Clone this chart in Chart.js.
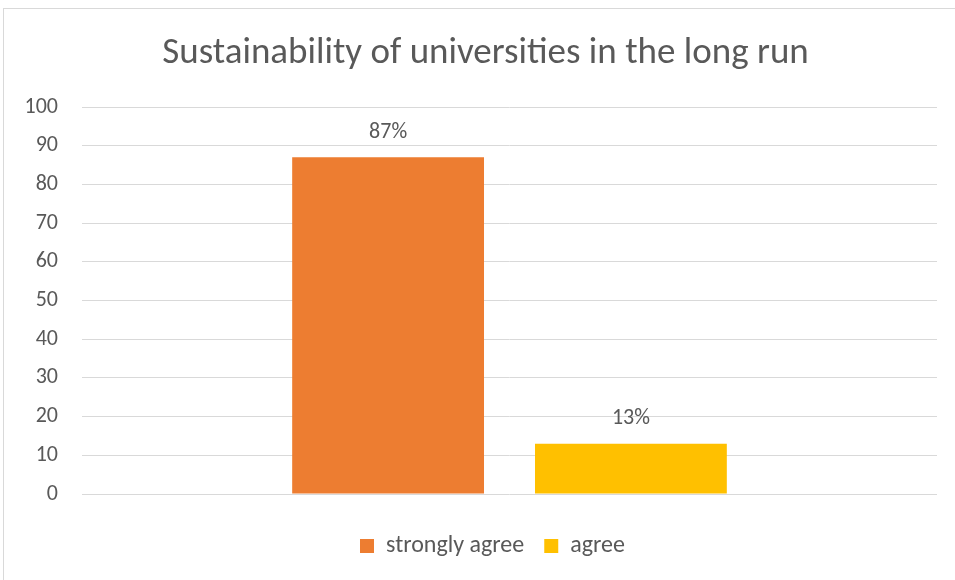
<!DOCTYPE html>
<html>
<head>
<meta charset="utf-8">
<script src="https://cdn.jsdelivr.net/npm/chart.js@4.4.0/dist/chart.umd.min.js"></script>
<style>
  html, body { margin: 0; padding: 0; background: #fff; }
  #wrap { width: 955px; height: 580px; position: relative; }
</style>
</head>
<body>
<div id="wrap"><canvas id="chart" width="955" height="580"></canvas></div>
<script>
// Survey answers
const categories = [''];
const seriesNames = ['strongly agree', 'agree'];
const strongAgreeValues = [87];
const agreeValues = [13];
const yTicks = [0, 10, 20, 30, 40, 50, 60, 70, 80, 90, 100];

const FONT = 'Carlito, Lato, "Open Sans", sans-serif';
const TEXT = '#595959';

// Frame around the whole chart
const framePlugin = {
  id: 'frame',
  beforeDraw(chart) {
    const c = chart.ctx;
    c.save();
    c.fillStyle = '#fff';
    c.fillRect(0, 0, chart.width, chart.height);
    c.strokeStyle = '#d9d9d9';
    c.lineWidth = 1;
    c.strokeRect(3.5, 8.5, chart.width, chart.height);
    c.restore();
  }
};

// Centre the title and legend over the framed area rather than the full canvas
const centerBlocks = {
  id: 'centerBlocks',
  afterLayout(chart) {
    if (chart.titleBlock) chart.titleBlock.left = 34;
    if (chart.legend) chart.legend.left = 48;
  }
};

// Value labels above each bar
const valueLabels = {
  id: 'valueLabels',
  afterDatasetsDraw(chart) {
    const c = chart.ctx;
    c.save();
    c.font = '22px ' + FONT;
    c.fillStyle = TEXT;
    c.textAlign = 'center';
    c.textBaseline = 'middle';
    chart.data.datasets.forEach((ds, i) => {
      chart.getDatasetMeta(i).data.forEach((bar, j) => {
        c.fillText(ds.data[j] + '%', bar.x, bar.y - 25);
      });
    });
    c.restore();
  }
};

new Chart(document.getElementById('chart'), {
  type: 'bar',
  data: {
    labels: categories,
    datasets: [
      { label: seriesNames[0], data: strongAgreeValues, backgroundColor: '#ED7D31', borderWidth: 0 },
      { label: seriesNames[1], data: agreeValues, backgroundColor: '#FFC000', borderWidth: 0 }
    ]
  },
  options: {
    responsive: false,
    animation: false,
    devicePixelRatio: 1,
    layout: { padding: { top: 8, left: 0, right: 18, bottom: 12 } },
    datasets: { bar: { categoryPercentage: 0.568, barPercentage: 0.79 } },
    plugins: {
      title: {
        display: true,
        text: 'Sustainability of universities in the long run',
        color: TEXT,
        font: { family: FONT, size: 37, weight: 'normal', lineHeight: 1.2 },
        padding: { top: 23.8, bottom: 30.8 }
      },
      legend: {
        position: 'bottom',
        labels: {
          color: TEXT,
          font: { family: FONT, size: 24 },
          boxWidth: 14,
          boxHeight: 14,
          padding: 20
        }
      },
      tooltip: { enabled: false }
    },
    scales: {
      x: {
        grid: { display: false, drawTicks: false },
        border: { display: false },
        ticks: { display: false },
        afterFit(s) { s.height = 20; }
      },
      y: {
        min: 0,
        max: 100,
        afterBuildTicks(s) { s.ticks = yTicks.map(v => ({ value: v })); },
        grid: { color: '#d9d9d9', lineWidth: 1, drawTicks: false },
        border: { display: false },
        ticks: {
          color: TEXT,
          font: { family: FONT, size: 22 },
          padding: 24
        },
        afterFit(s) { s.width = 82; }
      }
    }
  },
  plugins: [framePlugin, centerBlocks, valueLabels]
});
</script>
</body>
</html>
